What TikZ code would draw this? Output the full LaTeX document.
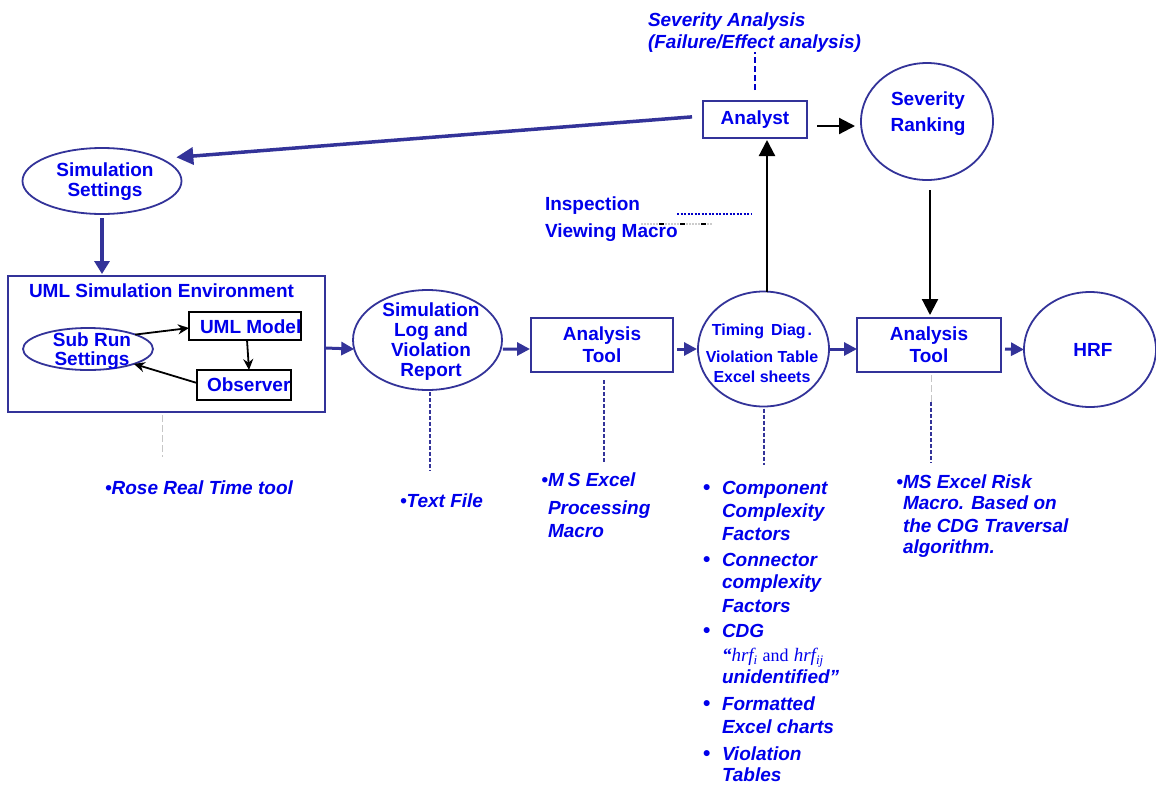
\documentclass[tikz,border=0pt]{standalone}
\usepackage{fontspec}
\setmainfont{Liberation Sans}
\newfontfamily\serifff{Liberation Serif}
\usetikzlibrary{arrows.meta,shapes.geometric}
\definecolor{tblue}{RGB}{0,0,235}
\definecolor{lblue}{RGB}{51,51,153}
\definecolor{dblue}{RGB}{0,0,200}
% italic serif symbol with a lowered index
\newcommand{\hrfsym}[1]{{\serifff\mdseries\itshape\fontsize{19}{20}\selectfont hrf\raisebox{-3pt}{\fontsize{13}{13}\selectfont #1}}}

\begin{document}
\begin{tikzpicture}[x=1pt,y=-1pt,
  every node/.style={inner sep=0pt, outer sep=0pt},
  hd/.style={font=\fontsize{19}{20}\selectfont\bfseries, text=tblue, align=center},
  hdl/.style={font=\fontsize{19}{20}\selectfont\bfseries, text=tblue, anchor=base west},
  it/.style={font=\fontsize{19}{23}\selectfont\bfseries\itshape, text=tblue, anchor=base west},
  bul/.style={font=\fontsize{21}{23}\selectfont\bfseries, text=tblue, anchor=base west},
  ell/.style={ellipse, draw=lblue, line width=1.8pt},
  box/.style={rectangle, draw=lblue, line width=1.8pt},
  ibox/.style={rectangle, draw=black, line width=1.8pt},
  flow/.style={draw=lblue, line width=3pt, -{Triangle[length=13pt,width=13pt]}},
  bigflow/.style={draw=lblue, line width=3.5pt, -{Triangle[length=17pt,width=17pt]}},
  downflow/.style={draw=lblue, line width=4pt, -{Triangle[length=13pt,width=15pt]}},
  blk/.style={draw=black, line width=2.2pt, -{Triangle[length=16pt,width=16pt]}},
  thinarr/.style={draw=black, line width=1.8pt, -{Stealth[length=11pt,width=10pt]}},
  lead/.style={draw=lblue, line width=2pt, dash pattern=on 4pt off 2pt},
  faint/.style={draw=gray!45, line width=1pt, dash pattern=on 7pt off 3pt},
]
\fill[white] (0,0) rectangle (1156,785);
\useasboundingbox (0,0) rectangle (1156,785);

% ---------- upper part: analyst and severity ranking ----------
\node[it] (sa1) at (648,26) {Severity Analysis};
\node[it] (sa2) at (648,48) {(Failure/Effect analysis)};
\node[box, hd, minimum width=104pt, minimum height=37pt] (analyst) at (755,119.5) {Analyst};
\node[ell, minimum width=132pt, minimum height=117pt] (sev) at (927,121.5) {};
\node[hd, font=\fontsize{19}{26}\selectfont\bfseries] (sevtxt) at (928,114) {Severity\\Ranking};

\node[hdl] (insp1) at (545,210) {Inspection};
\node[hdl] (insp2) at (545,237) {Viewing Macro};
\coordinate (dotA) at (677,214);
\coordinate (dotB) at (751,214);
\coordinate (grA) at (641,224);
\coordinate (grB) at (712,224);
\coordinate (bkA) at (659,224);
\coordinate (bkB) at (706,224);

% ---------- simulation settings and environment ----------
\node[ell, minimum width=159pt, minimum height=66pt] (simset) at (102,181) {};
\node[hd] (simsettxt) at (105,182) {Simulation\\Settings};

\node[box, minimum width=317pt, minimum height=136pt] (umlenv) at (166.5,344) {};
\node[hd, anchor=base] (umltitle) at (161.5,297) {UML Simulation Environment};
\node[ell, minimum width=130pt, minimum height=42pt] (subrun) at (88,349) {};
\node[hd, font=\fontsize{19}{19}\selectfont\bfseries] (subruntxt) at (92,351) {Sub Run\\Settings};
\node[ibox, minimum width=112pt, minimum height=28pt] (umlm) at (245,326) {};
\node[hdl] (umlmtxt) at (200,333) {UML Model};
\node[ibox, minimum width=94pt, minimum height=30pt] (obs) at (244,385) {};
\node[hdl] (obstxt) at (207,391) {Observer};

% ---------- main processing chain ----------
\node[ell, minimum width=149pt, minimum height=100pt] (simlog) at (427.5,340) {};
\node[hd] (simlogtxt) at (431,342) {Simulation\\Log and\\Violation\\Report};
\node[box, hd, font=\fontsize{19}{22}\selectfont\bfseries, minimum width=142pt, minimum height=54pt] (at1) at (602,345) {Analysis\\Tool};
\node[ell, minimum width=131pt, minimum height=115pt] (timing) at (763.5,349) {};
\node[hd, font=\fontsize{16}{20}\selectfont\bfseries] (timingtxt) at (762,353) {Timing\hspace{7pt}Diag\hspace{2pt}.\\[7pt]Violation Table\\Excel sheets};
\node[box, hd, font=\fontsize{19}{22}\selectfont\bfseries, minimum width=144pt, minimum height=54pt] (at2) at (929,345) {Analysis\\Tool};
\node[ell, minimum width=132pt, minimum height=115pt] (hrf) at (1090,349.5) {};
\node[hd] (hrftxt) at (1093,350) {HRF};

% ---------- notes under the chain ----------
\node[it] (rose) at (105,494) {•Rose Real Time tool};
\node[it] (tfile) at (400,507) {•Text File};
\node[it] (ms1) at (548,486) {\llap{•}M\hspace{4pt}S Excel};
\node[it] (ms2) at (548,514) {Processing};
\node[it] (ms3) at (548,537) {Macro};

\node[bul] (b1) at (703,494) {•};
\node[it] (c1a) at (722,494) {Component};
\node[it] (c1b) at (722,517) {Complexity};
\node[it] (c1c) at (722,540) {Factors};
\node[bul] (b2) at (703,566) {•};
\node[it] (c2a) at (722,566) {Connector};
\node[it] (c2b) at (722,588) {complexity};
\node[it] (c2c) at (722,612) {Factors};
\node[bul] (b3) at (703,637) {•};
\node[it] (c3a) at (722,637) {CDG};
\node[it] (c3b) at (722,661) {{\serifff\fontsize{19}{20}\selectfont “}\hrfsym{i} {\serifff\mdseries\upshape\fontsize{18}{20}\selectfont and} \hrfsym{ij}};
\node[it] (c3c) at (722,683) {unidentified”};
\node[bul] (b4) at (703,710) {•};
\node[it] (c4a) at (722,710) {Formatted};
\node[it] (c4b) at (722,733) {Excel charts};
\node[bul] (b5) at (703,760) {•};
\node[it] (c5a) at (722,760) {Violation};
\node[it] (c5b) at (722,781) {Tables};

\node[it] (r1) at (903,488) {\llap{•}MS Excel Risk};
\node[it] (r2) at (903,509) {Macro. Based on};
\node[it] (r3) at (903,532) {the CDG Traversal};
\node[it] (r4) at (903,553) {algorithm.};

% ends of the leader lines
\coordinate (umlend) at (162,457);
\coordinate (slend) at (430,471);
\coordinate (a1end) at (604,462);
\coordinate (tmend) at (764,465);
\coordinate (a2mid) at (931,402);
\coordinate (a2end) at (931,463);

% ---------- connectors ----------
\draw[bigflow, shorten <=11pt, shorten >=16pt] ([yshift=3.5pt]analyst.west) -- (simset.21.4);
\draw[downflow, shorten <=4pt, shorten >=2pt] (simset.south) -- (simset.south |- umlenv.north);

\draw[thinarr] (subrun.17) -- ([yshift=-2pt]umlm.west);
\draw[thinarr] ([xshift=2pt]umlm.south) -- ([xshift=5pt]obs.north);
\draw[thinarr] ([yshift=2pt]obs.west) -- (subrun.-18);

\draw[flow] ([yshift=-4pt]umlenv.east) -- (simlog.187);
\draw[flow, shorten <=2pt, shorten >=1pt] (simlog.-7) -- ([yshift=-4pt]at1.west);
\draw[flow, shorten <=4pt, shorten >=1pt] ([yshift=-4pt]at1.east) -- (timing.west);
\draw[flow, shorten <=1pt] (timing.east) -- ([yshift=-4pt]at2.west);
\draw[flow, shorten <=4pt] ([yshift=-4pt]at2.east) -- (hrf.west);

\draw[blk, shorten >=2pt] ([xshift=3.5pt]timing.north) -- ([xshift=3.5pt]timing.north |- analyst.south);
\draw[blk, shorten <=10pt, shorten >=6pt] ([yshift=-6.5pt]analyst.east) -- ([yshift=-6.5pt]analyst.east -| sev.west);
\draw[blk, shorten <=10pt, shorten >=3pt] ([xshift=3pt]sev.south) -- ([xshift=3pt]sev.south |- at2.north);

% leaders to the notes
\draw[draw=dblue, line width=2pt, dash pattern=on 6pt off 3pt, shorten <=11pt]
  (analyst.north) -- (analyst.north |- sa2.south);
\draw[draw=dblue, line width=1.5pt, dash pattern=on 2pt off 1.5pt] (dotA) -- (dotB);
\draw[draw=gray!40, line width=1.2pt, dash pattern=on 2pt off 1pt] (grA) -- (grB);
\draw[draw=black, line width=1.5pt, dash pattern=on 5pt off 16pt] (bkA) -- (bkB);

\draw[faint, shorten <=3pt] (umlenv.south -| umlend) -- (umlend);
\draw[lead, shorten <=2pt] (simlog.south -| slend) -- (slend);
\draw[lead, shorten <=8pt] (at1.south -| a1end) -- (a1end);
\draw[lead, shorten <=2pt] (timing.south -| tmend) -- (tmend);
\draw[faint, shorten <=3pt] (at2.south -| a2mid) -- (a2mid);
\draw[lead] (a2mid) -- (a2end);
\end{tikzpicture}
\end{document}
